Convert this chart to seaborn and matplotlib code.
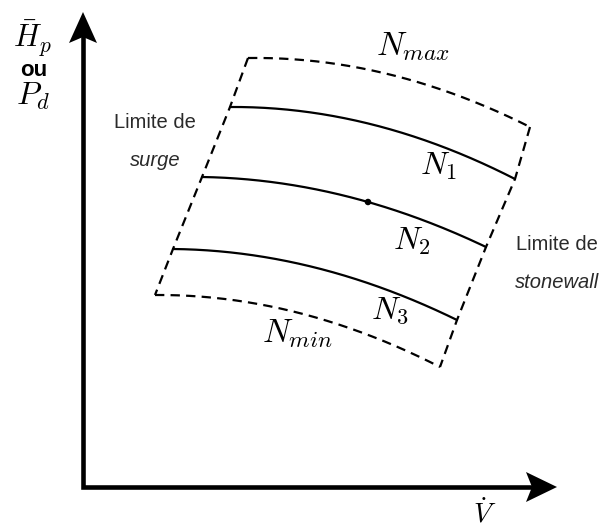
import numpy as np
import pandas as pd
import matplotlib
matplotlib.use("Agg")
import matplotlib.pyplot as plt
import seaborn as sns

# Compressor map sketch, drawn in a screen-like frame (x right, y down)
W, H = 603, 531

# Constant-speed lines: three points
nmax_x = [248, 414, 530]
nmax_y = [58, 81, 127]
n1_x = [230, 396, 515]
n1_y = [107, 131, 179]
n2_x = [202, 368, 486]
n2_y = [177, 202, 247]
n3_x = [173, 339, 457]
n3_y = [249, 274, 320]
nmin_x = [155, 321, 440]
nmin_y = [295, 319, 367]

# Operating point on N2
op_x, op_y = 368, 202

curves = [
    ("$N_{max}$", nmax_x, nmax_y, "dashed"),
    ("$N_1$", n1_x, n1_y, "solid"),
    ("$N_2$", n2_x, n2_y, "solid"),
    ("$N_3$", n3_x, n3_y, "solid"),
    ("$N_{min}$", nmin_x, nmin_y, "dashed"),
]

sns.set_theme(style="white")
plt.rcParams["mathtext.fontset"] = "cm"
plt.rcParams["font.family"] = ["Liberation Sans", "DejaVu Sans"]

fig = plt.figure(figsize=(W / 100, H / 100), dpi=100)
ax = fig.add_axes([0, 0, 1, 1])
ax.set_xlim(0, W)
ax.set_ylim(H, 0)
ax.axis("off")

DASH = (0, (4.2, 2.8))

# Speed lines as smooth quadratics through the read points
for name, xs, ys, kind in curves:
    coef = np.polyfit(xs, ys, 2)
    xx = np.linspace(xs[0], xs[-1], 200)
    df = pd.DataFrame({"x": xx, "y": np.polyval(coef, xx)})
    sns.lineplot(data=df, x="x", y="y", ax=ax, color="black",
                 lw=1.6 if kind == "dashed" else 1.6,
                 linestyle=DASH if kind == "dashed" else "-")

# Surge limit (left ends) and stonewall limit (right ends)
surge = pd.DataFrame({"x": [c[1][0] for c in curves], "y": [c[2][0] for c in curves]})
stone = pd.DataFrame({"x": [c[1][-1] for c in curves], "y": [c[2][-1] for c in curves]})
for df in (surge, stone):
    sns.lineplot(data=df, x="x", y="y", ax=ax, sort=False, color="black",
                 lw=1.6, linestyle=DASH)

sns.scatterplot(x=[op_x], y=[op_y], ax=ax, color="black", s=22, zorder=5,
                edgecolor="none")

# Axes with arrowheads
ox, oy = 83, 487
ytip, xtip = 12, 557
ax.plot([ox, ox, xtip - 20], [ytip + 20, oy, oy], color="black", lw=3.3,
        solid_joinstyle="miter", solid_capstyle="butt")
ax.fill([ox, ox - 14, ox, ox + 14], [ytip, ytip + 31, ytip + 25, ytip + 31],
        color="black", lw=0)
ax.fill([xtip, xtip - 31, xtip - 25, xtip - 31], [oy, oy - 15, oy, oy + 15],
        color="black", lw=0)

# Labels
math_kw = dict(ha="center", va="center", color="black")
ax.text(413, 47, "$N_{max}$", fontsize=24, **math_kw)
ax.text(439, 166, "$N_1$", fontsize=23, **math_kw)
ax.text(412, 241, "$N_2$", fontsize=23, **math_kw)
ax.text(390, 311, "$N_3$", fontsize=23, **math_kw)
ax.text(297, 334, "$N_{min}$", fontsize=24, **math_kw)

ax.text(33, 38, r"$\bar{H}_p$", fontsize=22, **math_kw)
ax.text(34, 71, "ou", fontsize=16, fontweight="bold", **math_kw)
ax.text(33, 96, "$P_d$", fontsize=23, **math_kw)
ax.text(485, 514, r"$\dot{V}$", fontsize=20, **math_kw)

txt_kw = dict(ha="center", va="center", color="#2a2a2a", fontsize=14.5)
ax.text(155, 123, "Limite de", **txt_kw)
ax.text(155, 160, "surge", style="italic", **txt_kw)
ax.text(557, 245, "Limite de", **txt_kw)
ax.text(557, 282, "stonewall", style="italic", **txt_kw)

fig.savefig("out.png", dpi=100)
